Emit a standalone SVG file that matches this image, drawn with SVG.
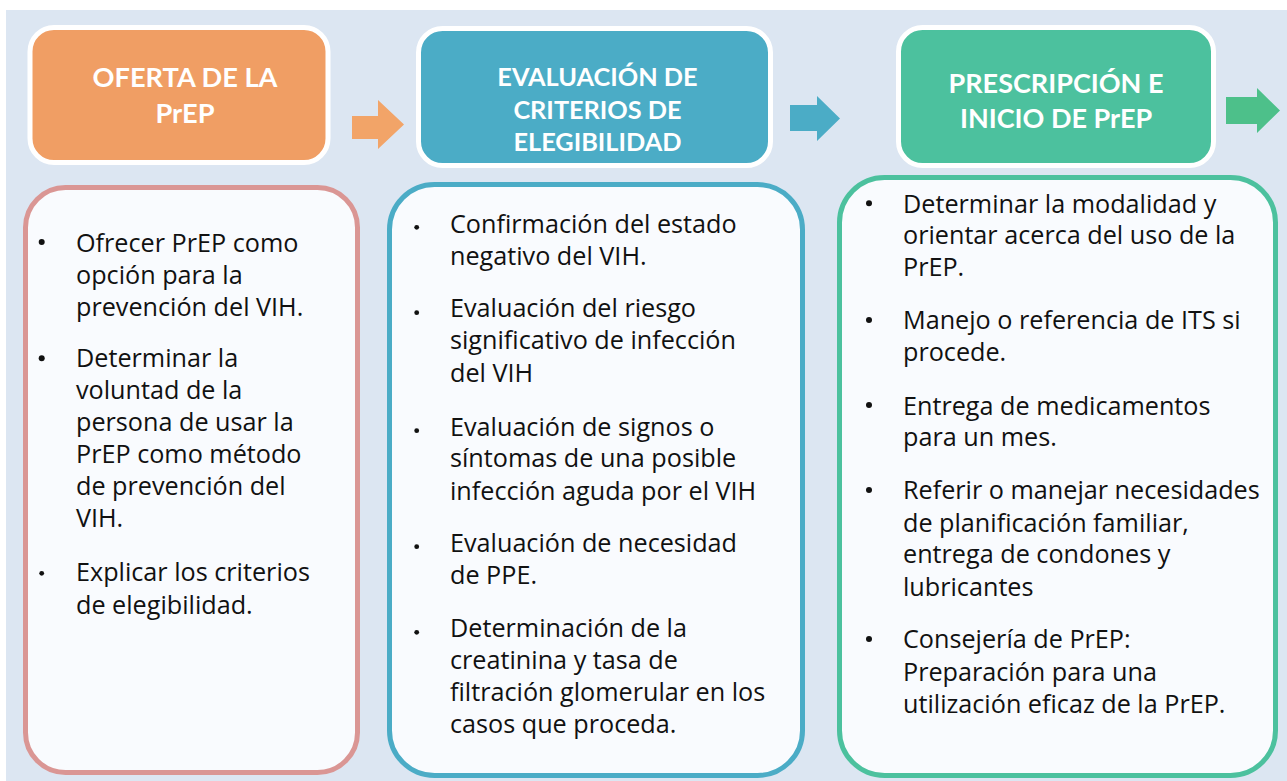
<svg xmlns="http://www.w3.org/2000/svg" width="1287" height="781" viewBox="0 0 1287 781">
<defs>
<style>
.hd{font-family:Lato,"Open Sans","Liberation Sans",sans-serif;font-weight:700;fill:#ffffff;text-anchor:middle}
.bt{font-family:"Open Sans",Lato,"Liberation Sans",sans-serif;font-size:25.2px;fill:#111111}
.hbox{stroke:#ffffff;stroke-width:5}
.cbox{fill:#F9FBFE;stroke-width:5}
.dot{fill:#111111}
</style>
</defs>
<rect x="0" y="0" width="1287" height="781" fill="#ffffff"/>
<rect x="6" y="10" width="1281" height="771" fill="#DCE6F2"/>

<g id="connectors">
<polygon points="352,116 378,116 378,100 404,124.5 378,149 378,139 352,139" fill="#F2A468"/>
<polygon points="790,105 817,105 817,96 840,118.5 817,141 817,131 790,131" fill="#4BACC6"/>
<polygon points="1226,97 1257,97 1257,88 1280,110.5 1257,133 1257,124 1226,124" fill="#4DC08A"/>
</g>

<g id="header1">
<rect class="hbox" x="30" y="27.5" width="298" height="135" rx="24" fill="#F09E64"/>
<text class="hd" font-size="27.2" x="185" y="87">OFERTA DE LA</text>
<text class="hd" font-size="27.2" x="185" y="123">PrEP</text>
</g>

<g id="header2">
<rect class="hbox" x="418.5" y="28.5" width="352" height="137" rx="24" fill="#4BACC6"/>
<text class="hd" font-size="25.3" x="597.5" y="86">EVALUACIÓN DE</text>
<text class="hd" font-size="25.3" x="597.5" y="118.5">CRITERIOS DE</text>
<text class="hd" font-size="25.3" x="597.5" y="151">ELEGIBILIDAD</text>
</g>

<g id="header3">
<rect class="hbox" x="898.5" y="27.5" width="315" height="138" rx="24" fill="#4CC19E"/>
<text class="hd" font-size="27" x="1056" y="92.5">PRESCRIPCIÓN E</text>
<text class="hd" font-size="27" x="1056" y="127.5">INICIO DE PrEP</text>
</g>

<g id="box1">
<rect class="cbox" x="25.5" y="187.5" width="332" height="585" rx="40" stroke="#DA9694"/>
<circle class="dot" cx="41.7" cy="242" r="3"/>
<circle class="dot" cx="41.7" cy="358.3" r="3"/>
<circle class="dot" cx="41.7" cy="573.3" r="2.4"/>
<text class="bt" x="76" y="251.5">Ofrecer PrEP como</text>
<text class="bt" x="76" y="283.5">opción para la</text>
<text class="bt" x="76" y="315.5">prevención del VIH.</text>
<text class="bt" x="76" y="367">Determinar la</text>
<text class="bt" x="76" y="399">voluntad de la</text>
<text class="bt" x="76" y="431">persona de usar la</text>
<text class="bt" x="76" y="463">PrEP como método</text>
<text class="bt" x="76" y="495">de prevención del</text>
<text class="bt" x="76" y="527">VIH.</text>
<text class="bt" x="76" y="581">Explicar los criterios</text>
<text class="bt" x="76" y="614">de elegibilidad.</text>
</g>

<g id="box2">
<rect class="cbox" x="389.5" y="184.5" width="413" height="591" rx="45" stroke="#4BACC6"/>
<circle class="dot" cx="416.7" cy="227.3" r="2.4"/>
<circle class="dot" cx="416.7" cy="312.7" r="2.4"/>
<circle class="dot" cx="416.7" cy="430.7" r="2.4"/>
<circle class="dot" cx="416.7" cy="546.7" r="2.4"/>
<circle class="dot" cx="416.7" cy="632.3" r="2.4"/>
<text class="bt" x="450" y="232.7">Confirmación del estado</text>
<text class="bt" x="450" y="264.7">negativo del VIH.</text>
<text class="bt" x="450" y="316.7">Evaluación del riesgo</text>
<text class="bt" x="450" y="349.3">significativo de infección</text>
<text class="bt" x="450" y="381.7">del VIH</text>
<text class="bt" x="450" y="435.7">Evaluación de signos o</text>
<text class="bt" x="450" y="467">síntomas de una posible</text>
<text class="bt" x="450" y="500">infección aguda por el VIH</text>
<text class="bt" x="450" y="551.7">Evaluación de necesidad</text>
<text class="bt" x="450" y="584.3">de PPE.</text>
<text class="bt" x="450" y="636.7">Determinación de la</text>
<text class="bt" x="450" y="669.3">creatinina y tasa de</text>
<text class="bt" x="450" y="701">filtración glomerular en los</text>
<text class="bt" x="450" y="733.3">casos que proceda.</text>
</g>

<g id="box3">
<rect class="cbox" x="839.5" y="177.5" width="436" height="598" rx="45" stroke="#4CC19E"/>
<circle class="dot" cx="869" cy="203.3" r="3"/>
<circle class="dot" cx="869" cy="320" r="3"/>
<circle class="dot" cx="869" cy="405" r="3"/>
<circle class="dot" cx="869" cy="490" r="3"/>
<circle class="dot" cx="869" cy="639" r="3"/>
<text class="bt" x="903" y="212.7">Determinar la modalidad y</text>
<text class="bt" x="903" y="244">orientar acerca del uso de la</text>
<text class="bt" x="903" y="276">PrEP.</text>
<text class="bt" x="903" y="329.3">Manejo o referencia de ITS si</text>
<text class="bt" x="903" y="360.7">procede.</text>
<text class="bt" x="903" y="415">Entrega de medicamentos</text>
<text class="bt" x="903" y="446">para un mes.</text>
<text class="bt" x="903" y="499.3">Referir o manejar necesidades</text>
<text class="bt" x="903" y="531.7">de planificación familiar,</text>
<text class="bt" x="903" y="563.3">entrega de condones y</text>
<text class="bt" x="903" y="596">lubricantes</text>
<text class="bt" x="903" y="648.3">Consejería de PrEP:</text>
<text class="bt" x="903" y="680.7">Preparación para una</text>
<text class="bt" x="903" y="713.3">utilización eficaz de la PrEP.</text>
</g>
</svg>
